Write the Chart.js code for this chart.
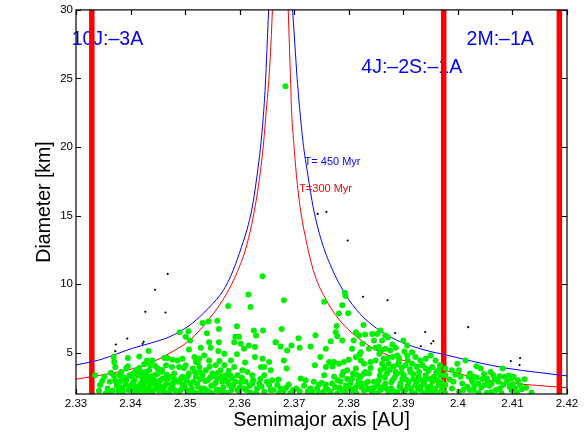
<!DOCTYPE html>
<html>
<head>
<meta charset="utf-8">
<script src="https://cdn.jsdelivr.net/npm/chart.js@4.4.1/dist/chart.umd.min.js"></script>
<style>
  html, body { margin: 0; padding: 0; background: #fff; }
  #chart { display: block; }
</style>
</head>
<body>
<canvas id="chart" width="584" height="434"></canvas>
<script>
// axis ranges and tick values
const xTicks = [2.33, 2.34, 2.35, 2.36, 2.37, 2.38, 2.39, 2.40, 2.41, 2.42];
const yTicks = [5, 10, 15, 20, 25, 30];
const yMin = 2, yMax = 30;

// mean-motion resonances (semimajor axis, AU)
const resonanceA = [2.3329, 2.3974, 2.4186];

// family members [a, D], split by semimajor axis range
const greenWest = [
  [2.3335,3.37],[2.3344,2.65],[2.3342,2.24],[2.3358,2.41],[2.3355,2.05],[2.3369,4.69],[2.3370,4.33],
  [2.3372,3.97],[2.3369,3.37],[2.3372,3.01],[2.3375,2.58],[2.3367,2.24],[2.3385,2.41],[2.3395,4.62],
  [2.3395,4.02],[2.3398,3.37],[2.3392,3.01],[2.3404,2.77],[2.3401,2.24],[2.3410,2.29],[2.3416,4.74],
  [2.3419,3.49],[2.3422,3.01],[2.3425,2.53],[2.3413,2.05],[2.3430,4.45],[2.3425,4.16],[2.3433,5.13],
  [2.3440,4.45],[2.3434,3.73],[2.3443,3.37],[2.3431,3.13],[2.3437,2.72],[2.3447,2.41],[2.3428,2.17],
  [2.3450,3.85],[2.3456,3.61],[2.3462,4.62],[2.3468,4.62],[2.3477,4.50],[2.3465,4.09],[2.3476,3.97],
  [2.3459,3.13],[2.3471,3.25],[2.3480,3.49],[2.3465,2.72],[2.3477,2.53],[2.3456,2.29],[2.3471,2.10],
  [2.3392,3.85],[2.3410,3.73],[2.3382,2.95],[2.3419,2.05],[2.3440,2.05],[2.3379,3.37],[2.3362,2.90],
  [2.3378,2.20],[2.3388,3.20],[2.3400,2.60],[2.3407,3.00],[2.3415,2.20],[2.3418,2.75],[2.3423,3.20],
  [2.3427,2.35],[2.3432,2.90],[2.3436,2.15],[2.3442,3.00],[2.3446,2.70],[2.3452,2.25],[2.3455,3.00],
  [2.3461,2.50],[2.3468,3.10],[2.3473,2.35],[2.3479,2.85],[2.3416,3.90],[2.3436,4.10],[2.3426,3.60],
  [2.3405,3.50],[2.3383,3.60],[2.3412,2.00],[2.3421,2.05],[2.3348,2.95],[2.3352,3.25],[2.3360,2.15],
  [2.3364,3.55],[2.3374,2.85],[2.3381,2.50],[2.3386,2.05],[2.3391,2.70],[2.3396,2.30],[2.3403,3.25],
  [2.3406,2.05],[2.3409,2.55],[2.3414,3.35],[2.3417,2.45],[2.3420,3.55],[2.3424,2.80],[2.3429,3.40],
  [2.3433,2.50],[2.3438,3.25],[2.3441,2.30],[2.3445,2.95],[2.3449,3.45],[2.3453,2.60],[2.3458,3.75],
  [2.3463,2.10],[2.3466,3.40],[2.3474,2.70],[2.3482,2.25],[2.3480,3.10],[2.3445,4.05]
];
const greenMidWest = [
  [2.3642,10.59],[2.3616,9.26],[2.3620,8.35],[2.3579,8.42],[2.3543,7.29],[2.3532,7.17],[2.3559,7.34],
  [2.3562,6.74],[2.3595,6.93],[2.3490,6.50],[2.3506,6.57],[2.3501,6.18],[2.3509,5.90],[2.3540,6.43],
  [2.3592,6.18],[2.3599,6.18],[2.3590,5.78],[2.3602,5.66],[2.3608,5.30],[2.3617,5.54],[2.3626,6.62],
  [2.3630,6.26],[2.3643,6.62],[2.3628,5.42],[2.3666,5.78],[2.3544,5.78],[2.3562,5.78],[2.3561,5.13],
  [2.3572,4.93],[2.3584,4.45],[2.3547,5.37],[2.3507,5.25],[2.3642,4.57],[2.3654,4.33],[2.3639,3.97],
  [2.3605,3.73],[2.3614,3.61],[2.3645,3.37],[2.3660,3.01],[2.3654,2.65],[2.3636,2.77],[2.3645,2.17],
  [2.3630,2.05],[2.3611,2.89],[2.3608,2.41],[2.3599,2.17],[2.3578,2.05],[2.3581,2.65],[2.3587,3.13],
  [2.3575,3.37],[2.3565,3.73],[2.3556,4.09],[2.3544,4.45],[2.3535,4.81],[2.3526,4.57],[2.3517,4.69],
  [2.3495,4.57],[2.3486,4.45],[2.3489,3.97],[2.3501,4.09],[2.3514,3.85],[2.3526,3.97],[2.3538,3.73],
  [2.3550,3.49],[2.3559,3.13],[2.3568,2.89],[2.3553,2.65],[2.3541,3.01],[2.3532,3.37],[2.3520,3.25],
  [2.3507,3.49],[2.3495,3.25],[2.3486,2.89],[2.3498,2.65],[2.3510,2.77],[2.3523,2.53],[2.3535,2.41],
  [2.3544,2.17],[2.3562,2.29],[2.3507,2.10],[2.3526,2.05],[2.3492,2.29],[2.3623,3.37],[2.3645,3.97],
  [2.3657,3.73],[2.3590,3.97],[2.3596,3.37],[2.3572,4.09],[2.3520,4.33],[2.3529,5.37],[2.3495,2.70],
  [2.3503,3.00],[2.3512,2.40],[2.3518,3.60],[2.3528,3.10],[2.3533,2.20],[2.3548,2.60],[2.3553,3.30],
  [2.3558,2.30],[2.3570,2.50],[2.3575,3.00],[2.3585,2.30],[2.3592,2.90],[2.3600,2.50],[2.3604,3.20],
  [2.3618,2.60],[2.3625,3.00],[2.3632,2.40],[2.3650,2.90],[2.3657,2.30],[2.3498,3.90],[2.3523,4.30],
  [2.3545,4.00],[2.3563,4.40],[2.3580,3.70],[2.3610,4.30],[2.3628,4.70],[2.3595,4.90],[2.3489,2.15],
  [2.3492,3.10],[2.3500,2.40],[2.3505,3.30],[2.3509,2.25],[2.3515,2.90],[2.3517,2.10],[2.3522,2.75],
  [2.3527,3.60],[2.3530,2.40],[2.3537,2.95],[2.3540,2.25],[2.3546,3.20],[2.3550,2.05],[2.3556,2.80],
  [2.3560,3.55],[2.3565,2.25],[2.3568,3.30],[2.3573,2.10],[2.3578,2.90],[2.3583,3.35],[2.3588,2.60],
  [2.3596,2.30],[2.3602,2.85],[2.3612,2.30],[2.3620,2.10],[2.3623,2.75],[2.3638,3.10],[2.3640,2.55],
  [2.3662,2.30]
];
const greenMidEast = [
  [2.3684,24.44],[2.3681,8.83],[2.3755,8.73],[2.3793,9.38],[2.3794,9.14],[2.3788,8.47],[2.3782,7.87],
  [2.3799,7.89],[2.3677,6.74],[2.3666,5.78],[2.3675,5.46],[2.3695,5.54],[2.3708,6.06],[2.3687,5.17],
  [2.3710,5.37],[2.3739,6.28],[2.3730,5.46],[2.3758,5.30],[2.3767,5.85],[2.3776,6.50],[2.3778,6.95],
  [2.3779,6.21],[2.3788,5.90],[2.3813,6.50],[2.3819,6.26],[2.3827,7.03],[2.3830,6.33],[2.3809,5.90],
  [2.3825,5.66],[2.3843,6.38],[2.3846,5.90],[2.3806,5.30],[2.3822,5.05],[2.3837,5.30],[2.3748,4.69],
  [2.3764,4.33],[2.3773,4.33],[2.3782,4.21],[2.3791,4.33],[2.3797,3.73],[2.3813,3.85],[2.3828,4.21],
  [2.3840,4.33],[2.3681,4.45],[2.3686,3.85],[2.3738,4.09],[2.3758,3.97],[2.3755,3.37],[2.3773,3.25],
  [2.3788,3.37],[2.3806,3.13],[2.3822,3.25],[2.3837,3.49],[2.3846,2.89],[2.3816,2.65],[2.3800,2.53],
  [2.3788,2.29],[2.3770,2.77],[2.3758,2.41],[2.3745,2.65],[2.3730,2.41],[2.3721,3.01],[2.3712,3.13],
  [2.3671,3.06],[2.3669,2.65],[2.3675,2.41],[2.3704,2.41],[2.3745,2.10],[2.3779,2.05],[2.3794,2.17],
  [2.3813,2.10],[2.3828,2.24],[2.3837,2.41],[2.3767,2.17],[2.3831,2.77],[2.3822,4.45],[2.3813,4.69],
  [2.3680,2.20],[2.3690,2.70],[2.3698,2.30],[2.3718,2.60],[2.3725,2.20],[2.3736,2.90],[2.3742,2.40],
  [2.3750,2.80],[2.3762,2.30],[2.3775,2.50],[2.3785,2.90],[2.3795,2.60],[2.3805,2.30],[2.3818,3.00],
  [2.3823,2.50],[2.3835,2.90],[2.3842,2.20],[2.3790,3.60],[2.3808,3.50],[2.3830,3.60],[2.3840,3.90],
  [2.3770,4.00],[2.3800,4.50],[2.3820,4.90],[2.3672,2.05],[2.3685,2.45],[2.3693,2.05],[2.3710,2.20],
  [2.3733,2.15],[2.3753,2.15],[2.3758,2.70],[2.3783,2.45],[2.3792,2.05],[2.3803,2.80],[2.3812,2.45],
  [2.3826,2.75],[2.3833,2.35],[2.3846,2.45],[2.3815,3.40],[2.3827,3.45],[2.3797,3.10],[2.3780,3.00]
];
const greenEast = [
  [2.3852,6.38],[2.3858,6.62],[2.3867,6.26],[2.3872,6.14],[2.3861,5.90],[2.3900,5.90],[2.3849,5.37],
  [2.3855,5.42],[2.3867,5.30],[2.3876,5.17],[2.3886,5.37],[2.3907,5.54],[2.3856,4.93],[2.3864,4.57],
  [2.3880,4.69],[2.3889,4.81],[2.3907,4.81],[2.3922,4.69],[2.3931,4.45],[2.3941,4.57],[2.3950,4.81],
  [2.3959,4.45],[2.3916,5.05],[2.3849,4.45],[2.3873,4.21],[2.3892,4.33],[2.3904,4.09],[2.3916,4.21],
  [2.3925,3.97],[2.3941,3.85],[2.3953,3.97],[2.3965,3.73],[2.3858,3.73],[2.3870,3.49],[2.3886,3.61],
  [2.3901,3.37],[2.3913,3.61],[2.3928,3.25],[2.3941,3.37],[2.3956,3.25],[2.3968,3.37],[2.3855,3.01],
  [2.3867,2.77],[2.3880,3.01],[2.3895,2.77],[2.3910,2.89],[2.3922,2.65],[2.3938,2.77],[2.3953,2.89],
  [2.3965,2.65],[2.3858,2.29],[2.3873,2.17],[2.3889,2.10],[2.3904,2.29],[2.3916,2.17],[2.3931,2.29],
  [2.3947,2.17],[2.3977,2.05],[2.3977,2.65],[2.3977,3.37],[2.3977,3.85],[2.3989,3.73],[2.4002,3.73],
  [2.3999,4.21],[2.4014,4.45],[2.4005,3.25],[2.4020,3.25],[2.3992,2.89],[2.4008,2.77],[2.4026,3.01],
  [2.3989,2.41],[2.4017,2.53],[2.4029,2.29],[2.4002,2.17],[2.3862,2.50],[2.3878,2.40],[2.3884,3.20],
  [2.3895,2.40],[2.3898,3.10],[2.3908,2.60],[2.3918,3.10],[2.3927,2.40],[2.3934,3.00],[2.3944,2.50],
  [2.3950,3.10],[2.3958,2.40],[2.3962,3.00],[2.3970,2.90],[2.3865,3.90],[2.3882,4.00],[2.3897,3.90],
  [2.3912,3.80],[2.3935,4.10],[2.3892,4.60],[2.3870,4.60],[2.3902,5.10],[2.3880,5.60],[2.3860,5.20],
  [2.3851,2.05],[2.3853,2.60],[2.3857,3.35],[2.3861,4.20],[2.3866,3.20],[2.3869,2.40],[2.3875,3.75],
  [2.3878,2.85],[2.3883,2.20],[2.3887,3.45],[2.3890,4.15],[2.3893,2.55],[2.3897,3.55],[2.3901,2.10],
  [2.3905,3.05],[2.3908,4.45],[2.3914,2.40],[2.3918,3.45],[2.3921,2.05],[2.3924,2.90],[2.3929,3.60],
  [2.3932,2.55],[2.3939,2.10],[2.3942,3.10],[2.3946,3.70],[2.3950,2.55],[2.3955,2.20],[2.3960,3.55],
  [2.3963,2.10],[2.3967,4.10],[2.3971,2.35],[2.3985,3.05],[2.3995,3.40],[2.4010,2.30]
];
const greenFar = [
  [2.4034,4.02],[2.4042,3.85],[2.4082,3.85],[2.4022,3.49],[2.4028,3.25],[2.4034,3.20],[2.4053,3.13],
  [2.4065,3.37],[2.4077,3.30],[2.4086,3.25],[2.4098,3.13],[2.4122,3.08],[2.4027,2.89],[2.4037,2.77],
  [2.4049,2.65],[2.4062,2.77],[2.4074,2.89],[2.4083,2.65],[2.4095,2.53],[2.4101,2.72],[2.4114,2.65],
  [2.4117,2.34],[2.4043,2.48],[2.4077,2.41],[2.4098,2.29],[2.4022,2.29],[2.4053,2.10],[2.4135,2.10],
  [2.4045,3.10],[2.4058,2.60],[2.4068,3.10],[2.4090,2.90],[2.4105,2.40],[2.4110,3.00],[2.4070,2.30],
  [2.4030,2.60],[2.4038,2.10],[2.4048,3.45],[2.4055,2.85],[2.4062,2.15],[2.4080,2.05],[2.4093,3.35],
  [2.4108,2.10],[2.4125,2.45],[2.4102,3.25],[2.4060,3.60]
];

// background objects [a, D]
const interlopers = [
  [2.3468,10.75],[2.3445,9.60],[2.3427,7.99],[2.3464,7.94],[2.3394,6.04],[2.3373,5.61],[2.3372,5.12],
  [2.3424,5.80],[2.3422,5.66],[2.3743,15.13],[2.3759,15.28],[2.3798,13.19],[2.3826,9.09],[2.3871,8.83],
  [2.3885,6.44],[2.3940,6.52],[2.3932,5.48],[2.3955,5.86],[2.3951,5.68],[2.4019,6.87],[2.4097,4.40],
  [2.4114,4.62],[2.4113,4.11]
];

// Yarkovsky drift limits, T = 450 Myr and T = 300 Myr
const limit450West = [
  [2.3300,4.11],[2.3344,4.50],[2.3405,5.35],[2.3436,5.70],[2.3472,6.18],[2.3509,7.03],[2.3545,8.35],
  [2.3570,9.55],[2.3588,11.0],[2.3603,12.68],[2.3616,14.36],[2.3625,16.05],[2.3632,17.97],[2.3638,19.9],
  [2.3643,22.06],[2.3647,24.47],[2.3650,27.11],[2.3653,30]
];
const limit450East = [
  [2.3697,30],[2.3701,27.6],[2.3705,25.2],[2.3710,22.8],[2.3716,20.4],[2.3725,17.97],[2.3735,15.57],
  [2.3750,13.16],[2.3768,11.24],[2.3793,9.31],[2.3820,7.87],[2.3851,6.79],[2.3887,5.94],[2.3918,5.46],
  [2.3949,5.10],[2.3973,4.90],[2.4025,4.40],[2.4086,3.90],[2.4147,3.57],[2.4200,3.32]
];
const limit300West = [
  [2.3300,3.08],[2.3344,3.37],[2.3405,3.85],[2.3436,4.26],[2.3472,4.98],[2.3509,5.94],[2.3545,7.51],
  [2.3576,9.31],[2.3594,10.76],[2.3610,12.44],[2.3622,14.36],[2.3631,16.29],[2.3638,18.21],
  [2.3644,20.38],[2.3649,22.78],[2.3654,25.19],[2.3658,28.08],[2.3660,30]
];
const limit300East = [
  [2.3689,30],[2.3691,27.6],[2.3693,25.2],[2.3695,22.8],[2.3699,20.4],[2.3704,17.97],[2.3711,15.57],
  [2.3722,13.16],[2.3737,10.76],[2.3759,8.83],[2.3783,7.39],[2.3814,6.18],[2.3850,5.22],[2.3887,4.62],
  [2.3912,4.31],[2.3948,3.90],[2.3973,3.72],[2.4002,3.49],[2.4028,3.22],[2.4083,2.85],[2.4144,2.63],
  [2.4200,2.45]
];

const FONT = "'Liberation Sans', Arial, Helvetica, sans-serif";
const BLUE = '#0000ff';
const RED = '#ff0000';
const GREEN = 'rgb(0, 240, 0)';

// text notes, anchored in data units (left edge, baseline)
const notes = [
  {text: '10J:\u20133A', a: 2.3292, d: 27.42, color: BLUE, size: 19.5},
  {text: '4J:\u20132S:\u20131A', a: 2.3823, d: 25.43, color: BLUE, size: 19.5},
  {text: '2M:\u20131A', a: 2.4016, d: 27.47, color: BLUE, size: 19.5},
  {text: 'T= 450 Myr', a: 2.3719, d: 18.69, color: BLUE, size: 11},
  {text: 'T=300 Myr', a: 2.3709, d: 16.72, color: RED, size: 11}
];

const toXY = pts => pts.map(([a, d]) => ({x: a, y: d}));

function dots(pts, color, radius, order) {
  return {
    data: toXY(pts),
    backgroundColor: color,
    borderWidth: 0,
    pointRadius: radius,
    pointHoverRadius: radius,
    order: order
  };
}

function curve(pts, color) {
  return {
    data: toXY(pts),
    showLine: true,
    borderColor: color,
    borderWidth: 1,
    pointRadius: 0,
    cubicInterpolationMode: 'monotone',
    order: 2
  };
}

function resonance(a) {
  return {
    data: [{x: a, y: yMin}, {x: a, y: yMax}],
    showLine: true,
    borderColor: RED,
    borderWidth: 5.5,
    pointRadius: 0,
    order: 3
  };
}

const notesPlugin = {
  id: 'notes',
  beforeDatasetsDraw(chart) {
    const {ctx, scales: {x, y}} = chart;
    ctx.save();
    ctx.textBaseline = 'alphabetic';
    ctx.textAlign = 'left';
    notes.forEach(n => {
      ctx.font = n.size + 'px ' + FONT;
      ctx.fillStyle = n.color;
      ctx.fillText(n.text, x.getPixelForValue(n.a), y.getPixelForValue(n.d));
    });
    ctx.restore();
  }
};

// box around the plot with inward tick marks on all four sides
const framePlugin = {
  id: 'frame',
  afterDraw(chart) {
    const {ctx, chartArea: {left, right, top, bottom}, scales: {x, y}} = chart;
    const len = 5;
    ctx.save();
    ctx.strokeStyle = '#000';
    ctx.lineWidth = 1.2;
    ctx.beginPath();
    xTicks.forEach(v => {
      const px = Math.round(x.getPixelForValue(v)) + 0.5;
      ctx.moveTo(px, bottom); ctx.lineTo(px, bottom - len);
      ctx.moveTo(px, top); ctx.lineTo(px, top + len);
    });
    yTicks.forEach(v => {
      const py = Math.round(y.getPixelForValue(v)) + 0.5;
      ctx.moveTo(left, py); ctx.lineTo(left + len, py);
      ctx.moveTo(right, py); ctx.lineTo(right - len, py);
    });
    ctx.stroke();
    ctx.strokeRect(left, top, right - left, bottom - top);
    ctx.restore();
  }
};

Chart.defaults.font.family = FONT;
Chart.defaults.color = '#000';

new Chart(document.getElementById('chart'), {
  type: 'scatter',
  data: {
    datasets: [
      resonance(resonanceA[0]),
      resonance(resonanceA[1]),
      resonance(resonanceA[2]),
      curve(limit450West, BLUE),
      curve(limit450East, BLUE),
      curve(limit300West, RED),
      curve(limit300East, RED),
      dots(greenWest, GREEN, 3, 1),
      dots(greenMidWest, GREEN, 3, 1),
      dots(greenMidEast, GREEN, 3, 1),
      dots(greenEast, GREEN, 3, 1),
      dots(greenFar, GREEN, 3, 1),
      dots(interlopers, '#000', 1.1, 0)
    ]
  },
  options: {
    responsive: false,
    animation: false,
    devicePixelRatio: 1,
    layout: { padding: { left: 0, right: 17, top: 6, bottom: 0 } },
    plugins: {
      legend: { display: false },
      tooltip: { enabled: false }
    },
    scales: {
      x: {
        type: 'linear',
        min: xTicks[0],
        max: xTicks[xTicks.length - 1],
        grid: { display: false, drawTicks: false },
        border: { display: false },
        afterBuildTicks: s => { s.ticks = xTicks.map(v => ({value: v})); },
        afterFit: s => { s.height = 40; },
        ticks: {
          padding: 2.5,
          maxRotation: 0,
          font: { size: 11.5 },
          callback: v => String(+Number(v).toFixed(2))
        },
        title: {
          display: true,
          text: 'Semimajor axis [AU]',
          font: { size: 19.5, lineHeight: 1.2 },
          padding: { top: 0, bottom: 1.5 }
        }
      },
      y: {
        type: 'linear',
        min: yMin,
        max: yMax,
        grid: { display: false, drawTicks: false },
        border: { display: false },
        afterBuildTicks: s => { s.ticks = yTicks.map(v => ({value: v})); },
        afterFit: s => { s.width = 76; },
        ticks: {
          padding: 3,
          font: { size: 11.5 }
        },
        title: {
          display: true,
          text: 'Diameter [km]',
          font: { size: 19.5, lineHeight: 1.2 },
          padding: { top: 33, bottom: 0 }
        }
      }
    }
  },
  plugins: [notesPlugin, framePlugin]
});
</script>
</body>
</html>
